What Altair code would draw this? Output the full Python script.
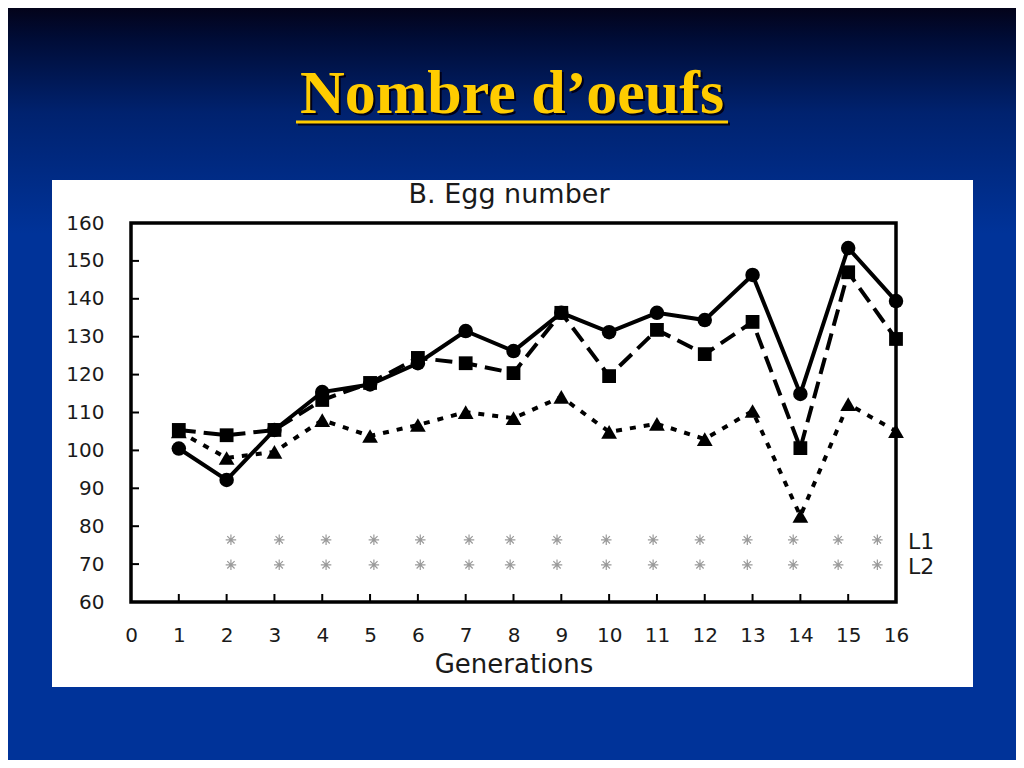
import altair as alt
import pandas as pd

# ---------------- data ----------------
generations = list(range(1, 17))
line_circle = [100.5, 92.2, 105.4, 115.4, 117.4, 123.0, 131.5, 126.2,
               136.3, 131.2, 136.3, 134.4, 146.3, 114.9, 153.4, 139.4]
line_square = [105.4, 104.0, 105.4, 113.3, 117.8, 124.4, 123.0, 120.4,
               136.3, 119.6, 131.8, 125.4, 133.9, 100.6, 147.0, 129.4]
line_triangle = [105.0, 98.0, 99.6, 108.0, 103.8, 106.7, 110.1, 108.5,
                 114.1, 104.9, 107.0, 103.0, 110.4, 82.7, 112.2, 105.1]

# significance asterisks (x positions as drawn, one per generation 2..16)
star_x = [2.09, 3.10, 4.08, 5.08, 6.05, 7.07, 7.93, 8.91, 9.94,
          10.92, 11.90, 12.89, 13.85, 14.79, 15.61]
sig_rows = ["L1", "L2"]
sig_levels = [76.4, 69.8]

x_ticks = list(range(0, 17))
y_ticks = list(range(60, 161, 10))

slide_title = "Nombre d\u2019oeufs"
chart_title = "B. Egg number"
x_title = "Generations"

# ---------------- tables ----------------
series = pd.DataFrame({
    "gen": generations * 3,
    "value": line_circle + line_square + line_triangle,
    "series": ["circle"] * 16 + ["square"] * 16 + ["triangle"] * 16,
})
stars = pd.DataFrame({
    "gen": star_x * len(sig_rows),
    "value": [v for v in sig_levels for _ in star_x],
    "row": [r for r in sig_rows for _ in star_x],
})
rows = pd.DataFrame({"value": sig_levels, "row": sig_rows})
xt = pd.DataFrame({"gen": [t for t in x_ticks if t > 0]})
yt = pd.DataFrame({"value": [t for t in y_ticks if 60 < t < 160]})
one = pd.DataFrame({"k": [0]})

W, H = 765, 379
PAD = {"left": 123, "top": 215, "right": 120, "bottom": 158}

FONT = "DejaVu Sans"
INK = "#1a1a1a"

x_enc = alt.X(
    "gen:Q",
    scale=alt.Scale(domain=[0, 16], nice=False, zero=False),
    axis=alt.Axis(values=x_ticks, format="d", domain=False, ticks=False, grid=False,
                  labelFont=FONT, labelFontSize=20, labelColor=INK, labelPadding=23,
                  labelFlush=False, labelOverlap=False,
                  title=x_title, titleFont=FONT, titleFontSize=26, titleFontWeight="normal",
                  titleColor=INK, titlePadding=6, zindex=1),
)
y_enc = alt.Y(
    "value:Q",
    scale=alt.Scale(domain=[60, 160], nice=False, zero=False),
    axis=alt.Axis(values=y_ticks, format="d", domain=False, ticks=False, grid=False,
                  labelFont=FONT, labelFontSize=20, labelColor=INK, labelPadding=27,
                  labelFlush=False, labelOverlap=False, title=None, zindex=1),
)

# ---------------- decorations (slide) ----------------
bg = alt.Chart(one).mark_rect(
    color=alt.LinearGradient(
        gradient="linear", x1=0, x2=0, y1=0, y2=1,
        stops=[alt.GradientStop(color="#03031a", offset=0),
               alt.GradientStop(color="#000c36", offset=0.04),
               alt.GradientStop(color="#00226f", offset=0.14),
               alt.GradientStop(color="#003399", offset=0.3),
               alt.GradientStop(color="#003399", offset=1)]),
).encode(x=alt.value(-PAD["left"]), x2=alt.value(W + PAD["right"]),
         y=alt.value(-PAD["top"]), y2=alt.value(H + PAD["bottom"]))

panel = alt.Chart(one).mark_rect(color="white").encode(
    x=alt.value(-79), x2=alt.value(842), y=alt.value(-43), y2=alt.value(464))

title_shadow = alt.Chart(one).mark_text(
    font="Liberation Serif", fontWeight="bold", fontSize=62, color="#000018",
    align="center", baseline="alphabetic", text=slide_title,
).encode(x=alt.value(383), y=alt.value(-108))
title_txt = alt.Chart(one).mark_text(
    font="Liberation Serif", fontWeight="bold", fontSize=62, color="#ffcc00",
    align="center", baseline="alphabetic", text=slide_title,
).encode(x=alt.value(381), y=alt.value(-110))
underline_shadow = alt.Chart(one).mark_rule(color="#000018", strokeWidth=3).encode(
    x=alt.value(167), x2=alt.value(599), y=alt.value(-99))
underline = alt.Chart(one).mark_rule(color="#ffcc00", strokeWidth=3).encode(
    x=alt.value(165), x2=alt.value(597), y=alt.value(-101))

ctitle = alt.Chart(one).mark_text(
    font=FONT, fontSize=27, color=INK, align="center", baseline="alphabetic",
    text=chart_title,
).encode(x=alt.value(378), y=alt.value(-20))

# ---------------- chart ----------------
frame = alt.Chart(one).mark_rect(filled=False, stroke="black", strokeWidth=3.5).encode(
    x=alt.value(0), x2=alt.value(W), y=alt.value(0), y2=alt.value(H))

xticks = alt.Chart(xt).mark_rule(color="black", strokeWidth=2).encode(
    x=x_enc, y=alt.value(H), y2=alt.value(H - 8))
yticks = alt.Chart(yt).mark_rule(color="black", strokeWidth=2).encode(
    y=y_enc, x=alt.value(0), x2=alt.value(8))

star_layer = alt.Chart(stars).mark_point(
    shape="M-1,0L1,0M0,-1L0,1M-0.7,-0.7L0.7,0.7M-0.7,0.7L0.7,-0.7",
    filled=False, stroke="#9a9a9a", strokeWidth=1.2, size=110, opacity=1,
).encode(x=x_enc, y=y_enc)

row_labels = alt.Chart(rows).mark_text(
    font=FONT, fontSize=22, color=INK, align="left", baseline="middle", dy=2,
).encode(y=y_enc, x=alt.value(777), text="row:N")


def series_layers(name, dash, shape, size):
    base = alt.Chart(series).transform_filter(alt.datum.series == name)
    line_kw = dict(color="black", strokeWidth=4, strokeCap="butt")
    if dash:
        line_kw["strokeDash"] = dash
    ln = base.mark_line(**line_kw).encode(x=x_enc, y=y_enc)
    pt = base.mark_point(shape=shape, filled=True, size=size, color="black",
                         opacity=1).encode(x=x_enc, y=y_enc)
    return [ln, pt]


layers = (
    [bg, panel, title_shadow, title_txt, underline_shadow, underline, ctitle,
     frame, xticks, yticks, star_layer, row_labels]
    + series_layers("triangle", [6, 8], "triangle-up", 250)
    + series_layers("circle", None, "circle", 210)
    + series_layers("square", [17, 8], "square", 190)
)

chart = alt.layer(*layers).properties(
    width=W, height=H,
    autosize=alt.AutoSizeParams(type="none"),
    padding=PAD,
    background="#003399",
).configure_view(strokeWidth=0)

chart.save("out.html", embed_options={"renderer": "svg", "actions": False})
